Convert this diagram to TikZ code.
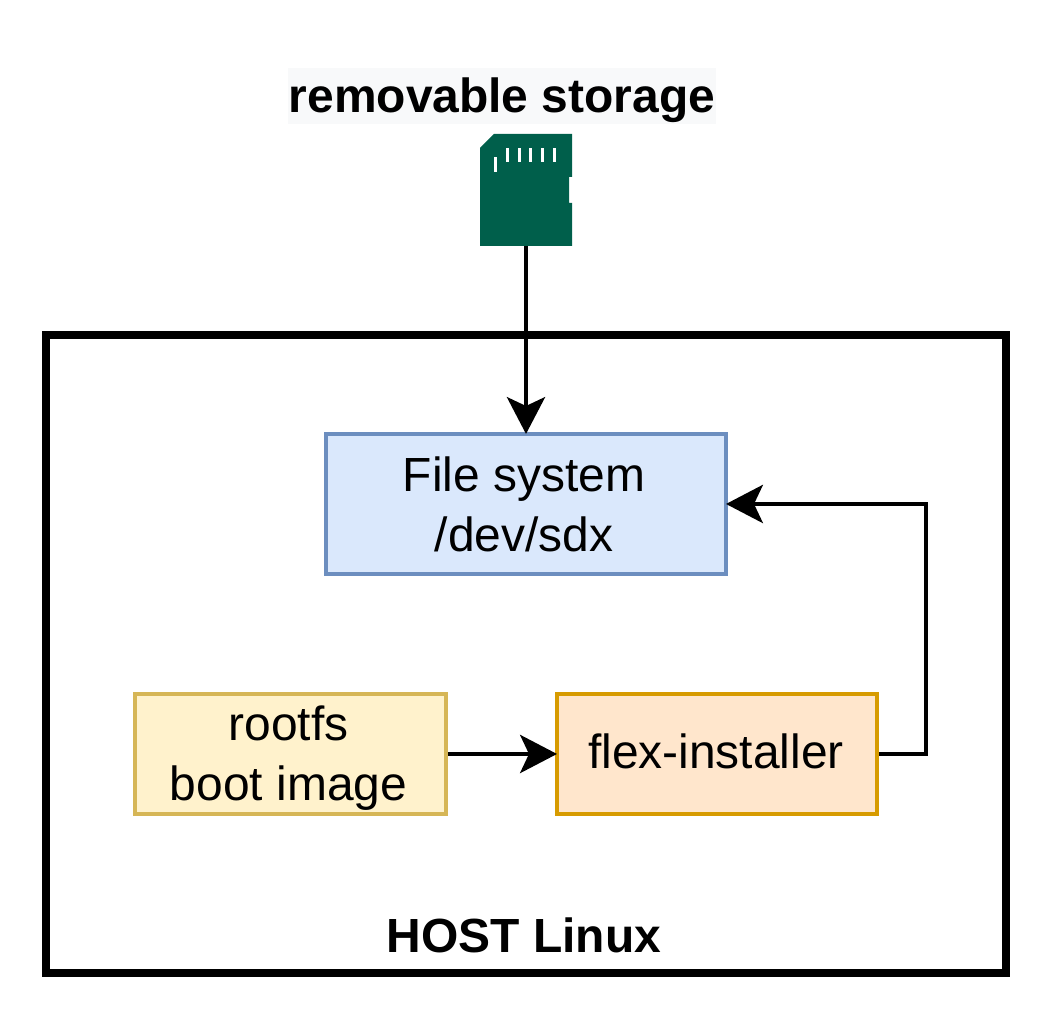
\documentclass[tikz,border=0pt]{standalone}
\usepackage{fontspec}
\setmainfont{Liberation Sans}
\usetikzlibrary{arrows.meta}
\definecolor{FileBlue}{HTML}{DAE8FC}
\definecolor{FileEdge}{HTML}{6C8EBF}
\definecolor{RootYellow}{HTML}{FFF2CC}
\definecolor{RootEdge}{HTML}{D6B656}
\definecolor{FlexOrange}{HTML}{FFE6CC}
\definecolor{FlexEdge}{HTML}{D79B00}
\definecolor{CardGreen}{HTML}{005F4B}
\definecolor{LabelGray}{HTML}{F8F9FA}
\newcommand\nudge{\kern.1cm}
\tikzset{
  bigtext/.style={font=\fontsize{34.1}{42.7}\selectfont,align=center},
  boldtext/.style={font=\fontsize{34.1}{42.7}\selectfont\bfseries,align=center},
  box/.style={bigtext,draw,line width=.12cm,inner sep=0pt,outer sep=0pt},
  link/.style={line width=.12cm,-{Stealth[length=.92cm,width=.95cm,inset=.22cm]}}
}
\begin{document}
\begin{tikzpicture}[>=Stealth]
\useasboundingbox (0,0) rectangle (26.2,25.5);
\node[draw,line width=.19cm,inner sep=0pt,outer sep=0pt,minimum width=24cm,minimum height=15.95cm] (host) at (13.15,9.15){};
\node[fill=LabelGray,inner sep=0pt,minimum width=10.7cm,minimum height=1.4cm,boldtext,text height=1.08cm] (storage) at (12.55,23.1){removable storage};
% sd card
\fill[CardGreen] (12,19.35)--(12,21.8)--(12.35,22.15)--(14.3,22.15)--(14.3,21.075)--(14.225,21.075)--(14.225,20.425)--(14.3,20.425)--(14.3,19.35)--cycle;
\coordinate (card) at (13.15,19.35);
\foreach \x in {12.65,12.94,13.22,13.52,13.82}
  \fill[white] (\x,21.45) rectangle ++(.075,.35);
\fill[white] (12.35,21.2) rectangle ++(.075,.375);
\node[box,draw=FileEdge,fill=FileBlue,minimum width=10cm,minimum height=3.5cm] (file) at (13.15,12.9){File system\nudge\\/dev/sdx\nudge};
\node[box,draw=RootEdge,fill=RootYellow,minimum width=7.775cm,minimum height=3cm] (rootfs) at (7.2625,6.65){\rule{0pt}{1.08cm}rootfs\nudge\\boot image\nudge};
\node[box,draw=FlexEdge,fill=FlexOrange,minimum width=8cm,minimum height=3cm,text depth=.15cm] (flex) at (17.925,6.65){flex-installer\kern.05cm};
\node[boldtext] (hostlabel) at (13.1,2.125){HOST Linux};
\coordinate (corner) at (23.15,12.9);
\draw[link] (card)--(file.north);
\draw[link,shorten <=.05cm] (rootfs.east)--(flex.west);
\draw[link,shorten <=.05cm] (flex.east)-|(corner)--(file.east);
\end{tikzpicture}
\end{document}
